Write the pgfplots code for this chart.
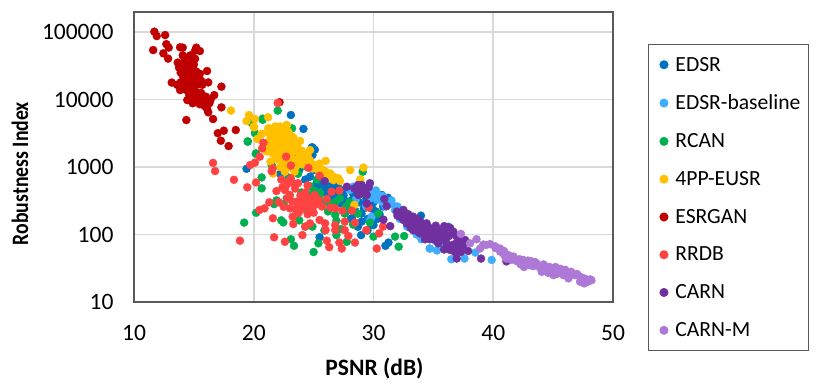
\documentclass[border=0pt]{standalone}
\usepackage{pgfplots}
\pgfplotsset{compat=1.18}
\usepackage{fontspec}
\setmainfont{Carlito}

\definecolor{cEDSR}{HTML}{0070C0}
\definecolor{cBase}{HTML}{3FAEFF}
\definecolor{cRCAN}{HTML}{00B050}
\definecolor{cEUSR}{HTML}{FFC000}
\definecolor{cGAN}{HTML}{C00000}
\definecolor{cRRDB}{HTML}{FF4343}
\definecolor{cCARN}{HTML}{7030A0}
\definecolor{cCARNM}{HTML}{AE78D6}
\definecolor{gridc}{HTML}{D9D9D9}
\definecolor{framec}{HTML}{595959}

\pgfplotsset{
  dots/.style={only marks, mark=*, mark size=4pt, color=#1, mark options={draw=#1, fill=#1},
    legend image code/.code={\path (0pt,0pt) (18pt,0pt); \draw[##1] plot coordinates {(9pt,0pt)};}},
}

\begin{document}
\begin{tikzpicture}[x=1pt,y=1pt]
\path[use as bounding box] (-134,-87) rectangle (688,302);
\begin{axis}[
at={(0,0)}, anchor=south west,
scale only axis, width=479pt, height=290pt,
xmin=10, xmax=50, ymode=log, ymin=10, ymax=197700,
xtick={10,20,30,40,50}, xticklabels={10,20,30,40,50},
ytick={10,100,1000,10000,100000}, yticklabels={10,100,1000,10000,100000},
minor ytick={}, major tick length=0pt, minor tick length=0pt,
log basis y=10,
grid=major, grid style={gridc, line width=1.7pt},
axis line style={framec, line width=1.5pt},
clip=false,
tick label style={font=\fontsize{23.5}{26}\selectfont, text=black},
xticklabel style={yshift=-20pt},
yticklabel style={xshift=-17pt},
xlabel={\bfseries PSNR (dB)}, ylabel={\scalebox{0.84}[1]{\bfseries Robustness Index}},
label style={font=\fontsize{23.5}{26}\selectfont},
xlabel style={at={(axis description cs:0.502,-0.231)}, anchor=center},
ylabel style={at={(axis description cs:-0.238,0.443)}, anchor=center},
legend cell align=left,
legend style={at={(1.073,0.8897)}, anchor=north west, draw=framec, line width=1pt,
  font=\fontsize{21.6}{25}\selectfont, row sep=18.3pt, inner xsep=6pt, inner ysep=10.5pt},
]

\addplot[dots=cEDSR] coordinates {
(23.1,5890)(24.15,3660)(24.85,1950)(24.9,1950)(19.4,940)(22.2,790)(25.5,91)(31,68)(31.25,76)
(28.96,98)(30,138)(29,155)(28.2,174)(29,204)(25.26,575)(26,513)(26.65,339)(27.77,309)(29.2,245)
(30.7,385)(27.6,457)(24.7,718)(26.65,645)(28.2,324)(28.9,400)(30,300)(31.2,350)(25,900)(25.5,800)
(24.5,1000)(24,1200)(23.5,1500)(25.8,600)(26.3,430)(27,380)(27.2,290)(27.9,250)(28.5,220)(29.5,170)
(30.3,170)(30.5,200)(32.2,220)(33.96,190)(36.25,130)(34.2,120)(35,110)(26.2,370)(25.2,500)(24.3,650)
(23.8,900)(28,480)(25.1,1800)(24.9,1500)(25.6,550)(26.4,520)(27,520)(27.5,380)(28.3,400)(28.8,300)
(29.4,340)(29.9,240)(30.2,220)(30.8,260)(31.5,290)(26.8,470)(25.7,420)(27.6,210)(28.1,170)(28.7,130)
(29.5,115)(29.8,140)
};
\addlegendentry{EDSR}

\addplot[dots=cBase] coordinates {
(34.7,62)(35.3,58)(36.5,43)(37.6,44)(39.87,42)(38.5,54)(36.4,110)(35.8,70)(28.3,510)(28.5,324)
(29.7,343)(29.85,184)(30.3,324)(30,407)(31.4,288)(32.8,131)(34.7,62)(28,457)(30.4,385)(29.7,162)
(29.2,490)(29.9,420)(30.8,300)(31,260)(31.8,230)(32.2,170)(33,130)(33.6,100)(34,85)(35.2,80)(35.9,95)
(36.9,75)(29.4,260)(29,530)(30.2,450)(30.8,370)(31.5,320)(32,260)(28.9,600)
};
\addlegendentry{EDSR-baseline}

\addplot[dots=cRCAN] coordinates {
(22,6840)(20.75,5200)(20.1,3170)(19.5,2400)(20.17,1580)(23.2,3740)(19.85,4470)(19.5,2370)(20.2,1580)
(20.66,700)(20.66,483)(19.2,150)(20.2,210)(21.7,282)(22.3,162)(22.47,151)(23.8,162)(23.1,85)(23.36,68)
(25,55)(25.4,74)(26.9,98)(27.77,78)(30,93)(31.8,93)(32.1,66)(32.56,95)(30.4,204)(29.1,851)(28.7,457)
(27.2,343)(25.5,385)(20.75,5000)(21.5,1070)(22.75,343)(24.4,244)(23.7,794)(24.3,131)(26.8,195)(27.6,204)
(28.7,204)(24.9,131)(24.7,520)(22.9,700)(23.4,900)(24.2,1050)(23,380)(24,300)(25.7,300)(26.2,220)
(27.3,120)(26.9,160)(25.9,115)(28.3,140)(29.7,150)(22.5,280)(21.9,320)(25.3,650)(24,420)(24.6,380)
(25,450)(25.5,420)(26.3,290)(26.8,300)(27.7,260)(28,300)
};
\addlegendentry{RCAN}

\addplot[dots=cEUSR] coordinates {
(18.1,6840)(19.6,5890)(19.4,4790)(20.1,5130)(21.2,5450)(20.03,3860)(21.3,3740)(21.8,3980)(22.3,3740)
(22.76,4170)(22.9,3160)(20.67,3090)(23.3,2750)(23.87,2430)(24.7,1780)(20,3980)(20.66,3090)(21.2,3720)
(21.6,3720)(22.2,3980)(22.75,4170)(22.9,3310)(23.2,2820)(21.36,2510)(21.9,2510)(22.2,2000)(22.75,1890)
(23.3,1690)(23.7,1890)(23.87,1410)(24.7,1260)(24.3,1200)(22.5,1260)(22.2,1000)(22.6,850)(25.1,1070)
(26,1230)(25.4,900)(26.4,760)(26.65,640)(27.07,680)(28.05,900)(29.16,980)(28.9,656)(28.4,274)(21.6,1580)
(21.9,1890)(23,2110)(23.45,1780)(22.5,2240)(24.15,1580)(25.5,1120)(25.8,900)(26.2,720)(21.6,800)
(21,2100)(21.4,2900)(22,2800)(22.4,2600)(23.6,2100)(24,1750)(24.5,1500)(23,1500)(23.4,1300)(24,1100)
(22.8,1150)(23.5,1000)(21.1,1700)(20.3,2600)(22.1,1500)(24.9,950)(25.6,780)
(21.3,3200)(21.7,3100)(22.1,3300)(22.5,3000)(22.9,2700)(21.7,2400)(22.2,2400)(22.6,2200)(23.1,2400)
(23.5,2400)(21.5,2000)(22.7,1700)(23.1,1800)(23.8,1600)(24.2,1350)(22.3,1750)(22.7,1350)(23.2,1150)
(23.7,1200)(24.4,1050)(24.8,1100)(25.2,950)(25.6,900)(26,850)(26.4,800)(26.8,700)(27.2,620)(22.4,1100)
(22.9,1000)(23.4,850)(21.9,1300)(21.4,1200)
};
\addlegendentry{4PP-EUSR}

\addplot[dots=cGAN] coordinates {
(11.7,101000)(11.9,87000)(12.6,90000)(11.6,54000)(12.7,66000)(12.9,58700)(12.45,48300)(12.85,40300)
(13.85,59300)(14.07,58600)(14.07,45000)(15.2,58600)(15.1,52800)(15.5,52200)(13.65,35200)(13.76,29700)
(13.15,17800)(13.85,13800)(16.1,26400)(16.2,17900)(17.3,15500)(16.7,11600)(14.45,9800)(17.3,7650)
(16.2,6470)(16.6,5130)(14.37,4960)(18.5,3530)(17.5,3450)(17,3170)(17.25,2450)(17.9,2040)(22.15,9100)
(14.5,42000)(14.8,38000)(15,33000)(14.3,30000)(14.6,27000)(15.2,26000)(15.5,24000)(14.1,22000)(14.4,24000)
(14.9,22000)(15.3,21000)(14.7,19500)(15.1,18500)(13.9,18000)(14.2,17000)(14.5,16000)(15,15500)(15.4,17000)
(15.7,16500)(14.3,14000)(14.8,13500)(15.2,13000)(15.6,12500)(14.6,12000)(15,11000)(15.4,10500)(14.7,10500)
(15.8,10000)(16,9000)(15.5,8500)(15.9,8000)(16.3,8800)(16.1,7300)(15.7,9500)(14.9,8800)(15.2,9300)(16.4,10000)
(16,11000)(13.6,16500)(14,15000)(14.4,19000)(14.9,28000)(14.2,36000)(13.9,25000)(15.6,19000)(14.55,33000)
(15.1,40000)(14.7,45000)
};
\addlegendentry{ESRGAN}

\addplot[dots=cRRDB] coordinates {
(22,8870)(16.6,1150)(16.77,870)(18.35,646)(19.46,500)(20.19,590)(20.8,2290)(20.7,1890)(20.5,1420)(20.1,1160)
(19.7,1070)(21.58,955)(21.5,870)(22.7,1420)(23.1,1050)(24.56,970)(25.5,740)(22.3,650)(23.1,680)(23.7,575)
(22.75,540)(23.45,480)(22.6,456)(24.5,535)(21.9,440)(23,385)(21.3,300)(20.9,244)(20.47,230)(21.6,174)
(22.1,300)(22.5,257)(23.03,244)(23.6,306)(24.15,324)(24,275)(24.7,343)(25.1,385)(25.4,324)(25,275)(24.7,231)
(23.7,206)(23.25,184)(23.3,143)(24.3,131)(24.7,146)(25.5,164)(25.96,146)(26,116)(26.5,430)(27.15,447)
(26.1,336)(26.4,251)(26.8,244)(27.4,225)(28.2,225)(27.6,155)(28.45,150)(26.8,138)(26.8,116)(27.6,116)
(27.9,95)(29.4,116)(30.47,104)(30.8,131)(21.7,91)(22.6,78)(24.06,98)(26.1,81)(26.3,65)(27.15,76)(27.35,62)
(28.45,76)(30.27,62)(18.85,81)(29.6,251)(24.3,420)(24.8,300)(25.2,280)(24.4,260)(23.2,310)(22.8,340)
(24.9,240)(25.7,260)(23.9,380)(23.4,560)(22.9,600)(22.4,500)(24.3,330)(24.6,290)(24.9,330)(25.3,310)
(24.1,260)(24.5,200)(25,210)(23.5,240)(23.9,230)
};
\addlegendentry{RRDB}

\addplot[dots=cCARN] coordinates {
(32.35,194)(32.5,164)(33.3,184)(34.44,146)(33.88,131)(33.3,116)(34.3,85)(35.1,116)(35.9,133)(36.67,110)
(35.4,74)(36.4,59)(37.17,59)(37.9,57)(37.64,83)(36.95,44)(38.98,44)(41.1,40)(34.7,98)(35.7,87)(36.95,74)
(36.1,74)(37.36,66)(32.77,146)(33.6,146)(33.88,104)(25.93,617)(27.77,510)(28.88,457)(29.7,575)(29.16,479)
(28.74,385)(29.44,288)(29.44,385)(30.9,336)(31.1,263)(30.83,166)(31.4,133)(31.95,218)(32.5,231)(32.2,184)
(32.8,164)(33.3,146)(33.6,116)(34.45,93)(32,190)(32.9,200)(33.7,170)(34,150)(34.9,105)(35.3,95)(36,85)
(36.6,70)(37,65)(34.6,120)(33.1,125)(35,85)(35.6,100)(36.3,95)(33,170)(33.5,150)(34.2,135)(34.7,125)
(35.2,135)(35.4,115)(35.9,105)(36.4,125)(36.9,95)(37.2,85)(37.5,70)(36.8,55)(37.3,55)(36.2,62)(35.9,60)
(35.2,85)(34.7,85)(34.5,105)(34,110)(33.5,130)(32.6,190)(32.1,205)(33.7,110)(29,540)(28.7,540)
(28.4,480)(29.3,430)(29.6,500)
};
\addlegendentry{CARN}

\addplot[dots=cCARNM] coordinates {
(37.3,102)(38.06,74)(38.6,85)(39.17,71)(39.73,72)(40.15,67)(40.57,62)(40.85,52)(41.4,48)(41.96,42)(42.57,33)
(42.5,42)(43.2,40)(43.63,37)(44.05,28)(44.33,34)(45.02,31.5)(45.02,25)(45.58,29)(46.28,22.4)(46.56,26)
(47.1,24.5)(47.25,20)(47.6,18.9)(48.1,21.6)(38.9,62)(43.07,35)(44.6,30)(45.86,25)(46.83,25)(40.57,56)
(40.98,48)(41.54,42)(42.8,37)(43.35,34)(43.9,32.6)(45.3,28)(47.5,21)(42,40)(44.8,30)(46,27)(47.7,22)(48.2,21)
(40.2,63)(40.9,57)(41.2,50)(41.7,47)(42.2,43)(42.9,41)(43.5,39)(44.2,36)(44.7,33)(45.2,33)(45.6,31)(46,30)
(46.5,28)(47,26)(47.4,23)(47.9,20)(43.8,34)(44.6,27)(45.3,26)(39.4,70)(41.1,44)(42.3,36)(42.7,39)(46.3,25)
};
\addlegendentry{CARN-M}

\end{axis}
\end{tikzpicture}
\end{document}
